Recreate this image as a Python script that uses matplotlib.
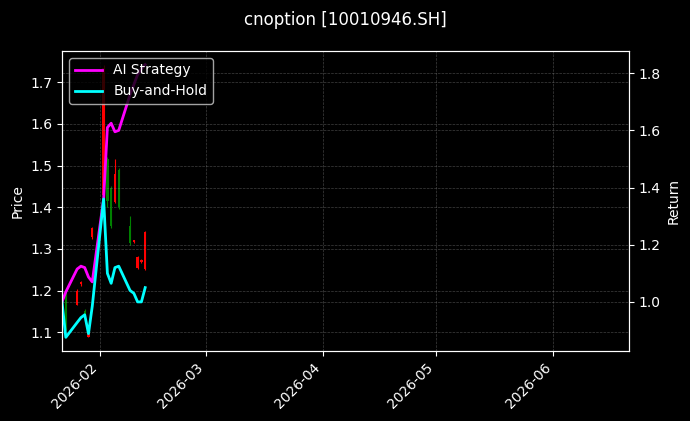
import datetime as dt
import matplotlib
matplotlib.use("Agg")
import matplotlib.pyplot as plt
import matplotlib.dates as mdates

# Trading days and daily candles (price axis)
days = ["2026-01-22", "2026-01-23", "2026-01-26", "2026-01-27", "2026-01-28",
        "2026-01-29", "2026-01-30", "2026-02-02", "2026-02-03", "2026-02-04",
        "2026-02-05", "2026-02-06", "2026-02-09", "2026-02-10", "2026-02-11",
        "2026-02-12", "2026-02-13"]
opens  = [1.280, 1.195, 1.166, 1.215, 1.150, 1.090, 1.328, 1.430, 1.515, 1.445,
          1.413, 1.490, 1.355, 1.317, 1.255, 1.268, 1.252]
highs  = [1.292, 1.200, 1.205, 1.222, 1.155, 1.100, 1.352, 1.742, 1.520, 1.450,
          1.515, 1.495, 1.378, 1.322, 1.282, 1.276, 1.342]
lows   = [1.278, 1.105, 1.165, 1.212, 1.135, 1.088, 1.325, 1.420, 1.400, 1.350,
          1.410, 1.395, 1.310, 1.315, 1.252, 1.266, 1.250]
closes = [1.290, 1.115, 1.200, 1.220, 1.140, 1.098, 1.350, 1.735, 1.415, 1.355,
          1.480, 1.400, 1.315, 1.321, 1.280, 1.274, 1.340]

# Cumulative returns (right axis)
ai_strategy  = [1.000, 1.035, 1.115, 1.125, 1.120, 1.087, 1.070, 1.360, 1.610,
                1.625, 1.595, 1.600, 1.725, 1.760, 1.795, 1.815, 1.830]
buy_and_hold = [1.000, 0.876, 0.928, 0.945, 0.955, 0.889, 0.985, 1.360, 1.100,
                1.065, 1.120, 1.125, 1.040, 1.030, 1.000, 1.000, 1.050]

title = "cnoption [10010946.SH]"

plt.style.use("dark_background")
dates = [dt.datetime.strptime(d, "%Y-%m-%d") for d in days]
x = mdates.date2num(dates)

fig = plt.figure(figsize=(6.9, 4.21), dpi=100)
ax = fig.add_axes([0.0899, 0.1663, 0.8217, 0.7126])

# candles: red = up, green = down
colors = ["red" if c >= o else "green" for o, c in zip(opens, closes)]
ax.vlines(x, lows, highs, colors=colors, linewidth=0.8)
bottoms = [min(o, c) for o, c in zip(opens, closes)]
heights = [abs(c - o) for o, c in zip(opens, closes)]
ax.bar(x, heights, bottom=bottoms, width=0.6, color=colors)
ax.set_ylabel("Price")
ax.grid(True, linestyle="--", linewidth=0.5, color="gray", alpha=0.5)

ax2 = ax.twinx()
ax2.plot(x, ai_strategy, color="#ff00ff", linewidth=2, label="AI Strategy")
ax2.plot(x, buy_and_hold, color="#00ffff", linewidth=2, label="Buy-and-Hold")
ax2.set_ylabel("Return")
ax2.grid(True, linestyle="--", linewidth=0.5, color="gray", alpha=0.5)
ax2.legend(loc="upper left")

start = dates[0]
ax.set_xlim(start, start + dt.timedelta(days=150))
ax.xaxis.set_major_locator(mdates.MonthLocator())
ax.xaxis.set_major_formatter(mdates.DateFormatter("%Y-%m"))
plt.setp(ax.get_xticklabels(), rotation=45, ha="right")

fig.suptitle(title, fontsize=12, y=0.975)
fig.savefig("out.png", dpi=100)
